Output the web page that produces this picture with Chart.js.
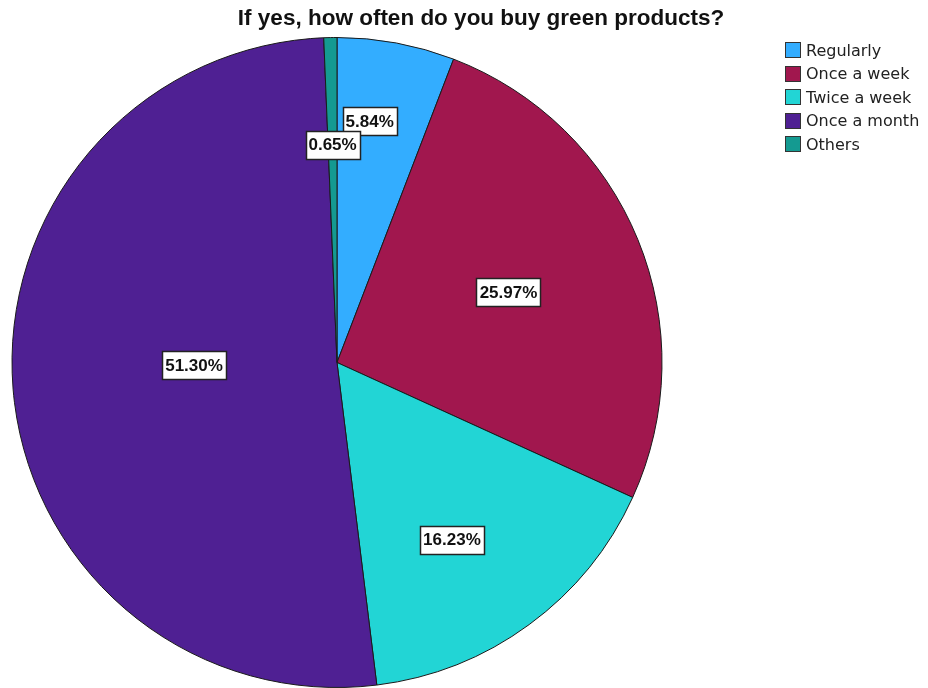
<!DOCTYPE html>
<html>
<head>
<meta charset="utf-8">
<script src="https://cdn.jsdelivr.net/npm/chart.js@4/dist/chart.umd.min.js"></script>
<style>
html,body{margin:0;padding:0;background:#fff;}
#wrap{position:relative;width:928px;height:688px;}
</style>
</head>
<body>
<div id="wrap"><canvas id="c" width="928" height="688"></canvas></div>
<script>
const chartTitle = "If yes, how often do you buy green products?";
const categories = ["Regularly", "Once a week", "Twice a week", "Once a month", "Others"];
const percentages = [5.84, 25.97, 16.23, 51.30, 0.65];
const sliceColors = ["#33adff", "#a1174e", "#22d5d5", "#4f2093", "#149a91"];

// label placement style: radial fraction and angular tweak (degrees)
const labelRadial = [0.75, 0.57, 0.65, 0.44, 0.67];
const labelAngleTweak = [-2.8, 0, 3.3, 3.7, 0];

const overlayPlugin = {
  id: 'overlay',
  afterDatasetsDraw(chart) {
    const ctx = chart.ctx;
    const meta = chart.getDatasetMeta(0);
    // slice labels
    ctx.save();
    ctx.font = "bold 17px 'Liberation Sans', Arial, sans-serif";
    ctx.textAlign = 'center';
    ctx.textBaseline = 'middle';
    meta.data.forEach((arc, i) => {
      const p = arc.getProps(['x','y','startAngle','endAngle','outerRadius'], true);
      const mid = (p.startAngle + p.endAngle) / 2 + labelAngleTweak[i] * Math.PI / 180;
      const r = p.outerRadius * labelRadial[i];
      const x = p.x + Math.cos(mid) * r;
      const y = p.y + Math.sin(mid) * r;
      const txt = percentages[i].toFixed(2) + '%';
      const w = Math.round(ctx.measureText(txt).width + 6);
      const h = 28;
      const bx = Math.round(x - w/2) + 0.5, by = Math.round(y - h/2) + 0.5;
      ctx.fillStyle = '#ffffff';
      ctx.fillRect(bx, by, w, h);
      ctx.strokeStyle = '#222222';
      ctx.lineWidth = 1.5;
      ctx.strokeRect(bx, by, w, h);
      ctx.fillStyle = '#111111';
      ctx.fillText(txt, x, y + 1);
    });
    ctx.restore();

    // title
    ctx.save();
    ctx.font = "bold 22.5px 'Liberation Sans', Arial, sans-serif";
    ctx.fillStyle = '#111111';
    ctx.textAlign = 'center';
    ctx.textBaseline = 'middle';
    ctx.fillText(chartTitle, 481, 19);
    ctx.restore();

    // legend
    ctx.save();
    ctx.font = "16px 'DejaVu Sans', Verdana, sans-serif";
    ctx.textBaseline = 'middle';
    ctx.textAlign = 'left';
    categories.forEach((lab, i) => {
      const cy = 50 + i * 23.5;
      const top = Math.round(cy - 8);
      ctx.fillStyle = sliceColors[i];
      ctx.fillRect(785, top, 16, 16);
      ctx.strokeStyle = '#333333';
      ctx.lineWidth = 1;
      ctx.strokeRect(785.5, top + 0.5, 15, 15);
      ctx.fillStyle = '#222222';
      ctx.fillText(lab, 806, cy + 1.5);
    });
    ctx.restore();
  }
};

new Chart(document.getElementById('c'), {
  type: 'pie',
  data: {
    labels: categories,
    datasets: [{
      data: percentages,
      backgroundColor: sliceColors,
      borderColor: '#1a1a1a',
      borderWidth: 1
    }]
  },
  options: {
    responsive: false,
    animation: false,
    layout: { padding: { left: 11, right: 265, top: 37, bottom: 0 } },
    plugins: {
      legend: { display: false },
      title: { display: false },
      tooltip: { enabled: false }
    }
  },
  plugins: [overlayPlugin]
});
</script>
</body>
</html>
